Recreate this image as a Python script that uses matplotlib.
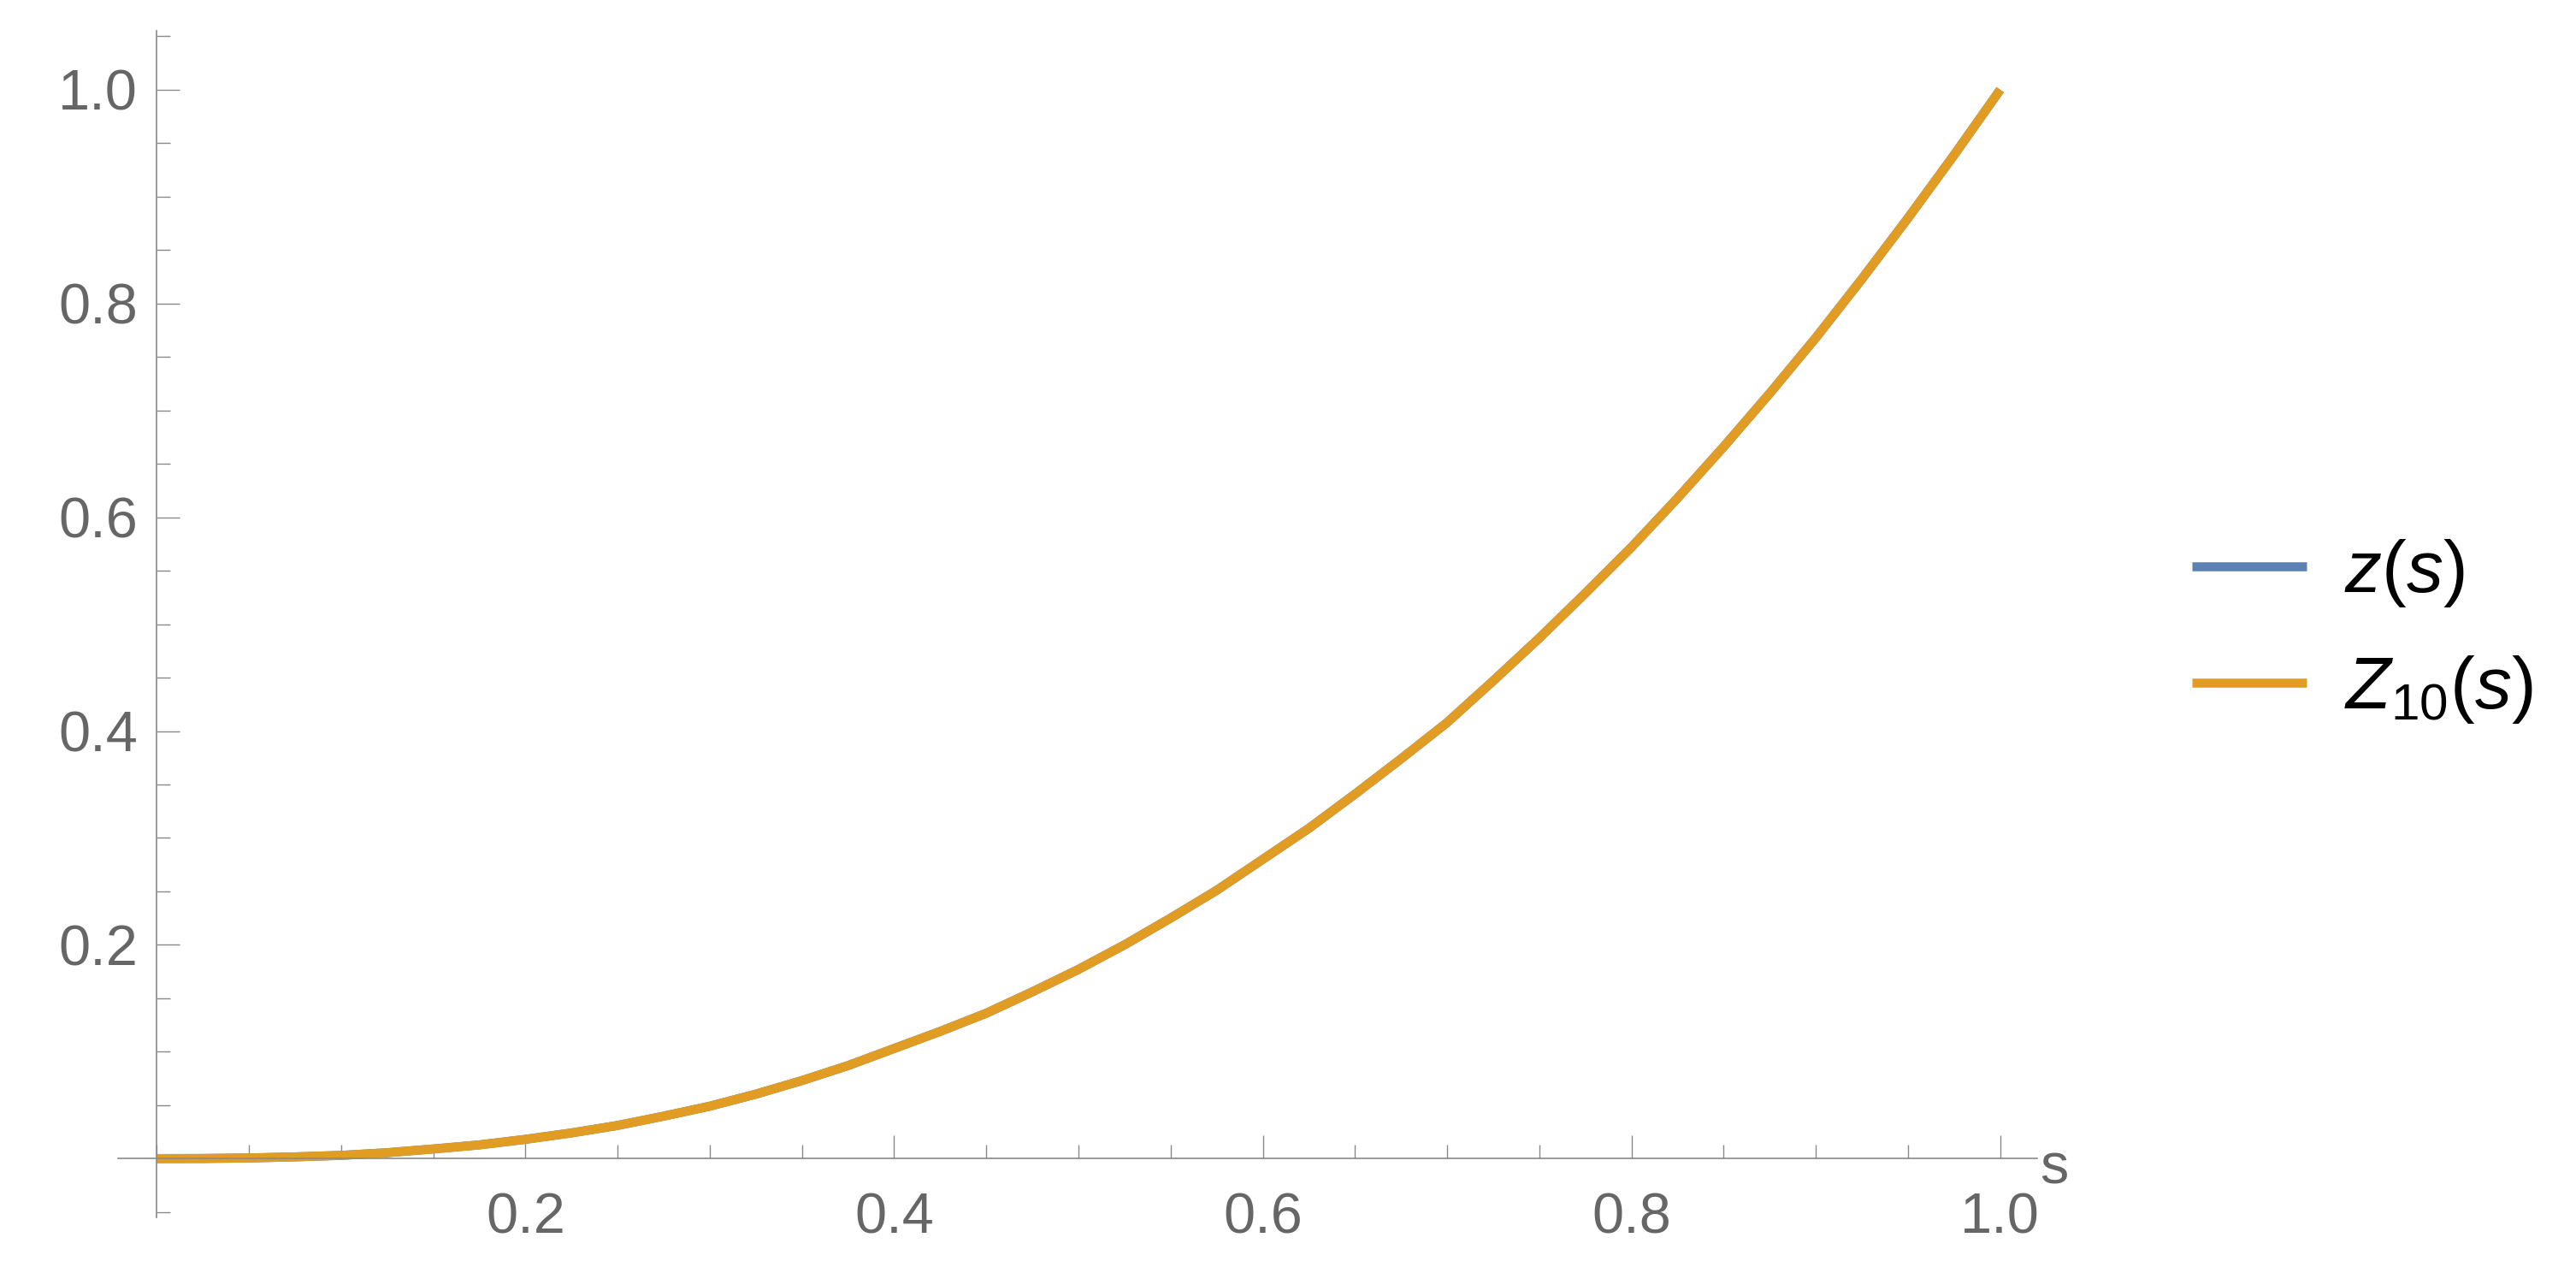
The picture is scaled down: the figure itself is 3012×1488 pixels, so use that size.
import matplotlib
matplotlib.use("Agg")
import matplotlib.pyplot as plt
from matplotlib.ticker import MultipleLocator, FixedLocator

plt.rcParams['font.family'] = ['Liberation Sans', 'DejaVu Sans']
plt.rcParams['mathtext.fontset'] = 'custom'
plt.rcParams['mathtext.rm'] = 'Liberation Sans'
plt.rcParams['mathtext.it'] = 'Liberation Sans:italic'

# values
s_vals = [0.0, 0.025, 0.05, 0.075, 0.1, 0.125, 0.15, 0.175, 0.2, 0.225, 0.25,
          0.275, 0.3, 0.325, 0.35, 0.375, 0.4, 0.425, 0.45, 0.475, 0.5,
          0.525, 0.55, 0.575, 0.6, 0.625, 0.65, 0.675, 0.7, 0.725, 0.75,
          0.775, 0.8, 0.825, 0.85, 0.875, 0.9, 0.925, 0.95, 0.975, 1.0]
z_vals = [0.0, 0.0001, 0.0006, 0.0016, 0.003, 0.0055, 0.009, 0.0128, 0.018, 0.024, 0.031,
          0.0397, 0.049, 0.0603, 0.073, 0.087, 0.103, 0.119, 0.136, 0.156, 0.177,
          0.200, 0.225, 0.251, 0.280, 0.309, 0.341, 0.374, 0.408, 0.447, 0.487,
          0.529, 0.572, 0.618, 0.666, 0.716, 0.768, 0.823, 0.880, 0.939, 1.0]
Z10_vals = [0.0, 0.0001, 0.0006, 0.0016, 0.003, 0.0055, 0.009, 0.0128, 0.018, 0.024, 0.031,
            0.0397, 0.049, 0.0603, 0.073, 0.087, 0.103, 0.119, 0.136, 0.156, 0.177,
            0.200, 0.225, 0.251, 0.280, 0.309, 0.341, 0.374, 0.408, 0.447, 0.487,
            0.529, 0.572, 0.618, 0.666, 0.716, 0.768, 0.823, 0.880, 0.939, 1.0]

x_ticks = [0.2, 0.4, 0.6, 0.8, 1.0]
y_ticks = [0.2, 0.4, 0.6, 0.8, 1.0]
labels = [r'$z(s)$', r'$Z_{10}(s)$']

axis_grey = '#8a8a8a'
text_grey = '#666666'

fig = plt.figure(figsize=(15.06, 7.44), dpi=200)
ax = fig.add_axes([0.0458, 0.0437, 0.745, 0.932])

ax.plot(s_vals, z_vals, color='#5E81B5', lw=3.8, label=labels[0], solid_capstyle='butt',
        solid_joinstyle='round')
ax.plot(s_vals, Z10_vals, color='#E19C24', lw=3.8, label=labels[1], solid_capstyle='butt',
        solid_joinstyle='round')

ax.set_xlim(-0.021, 1.020)
ax.set_ylim(-0.055, 1.055)

for side in ['top', 'right']:
    ax.spines[side].set_visible(False)
ax.spines['left'].set_position(('data', 0))
ax.spines['bottom'].set_position(('data', 0))
for side in ['left', 'bottom']:
    ax.spines[side].set_color(axis_grey)
    ax.spines[side].set_linewidth(0.6)

ax.xaxis.set_major_locator(FixedLocator(x_ticks))
ax.yaxis.set_major_locator(FixedLocator(y_ticks))
ax.xaxis.set_minor_locator(MultipleLocator(0.05))
ax.yaxis.set_minor_locator(MultipleLocator(0.05))
ax.set_xticklabels([f'{v:.1f}' for v in x_ticks])
ax.set_yticklabels([f'{v:.1f}' for v in y_ticks])

ax.tick_params(which='both', direction='in', color=axis_grey, width=0.5,
               labelcolor=text_grey, labelsize=24)
ax.tick_params(which='major', length=9.7)
ax.tick_params(which='minor', length=5.8)
ax.tick_params(axis='x', which='major', pad=14)
ax.tick_params(axis='y', which='major', pad=8)

ax.text(1.029, -0.01, 's', color=text_grey, fontsize=24, ha='center', va='center',
        clip_on=False)

ax.legend(loc='center left', bbox_to_anchor=(0.851, 0.504), bbox_transform=fig.transFigure,
          frameon=False, fontsize=31, handlelength=1.55, handletextpad=0.52,
          labelspacing=0.6, borderpad=0, borderaxespad=0)

fig.savefig('out.png', dpi=200, facecolor='white')
